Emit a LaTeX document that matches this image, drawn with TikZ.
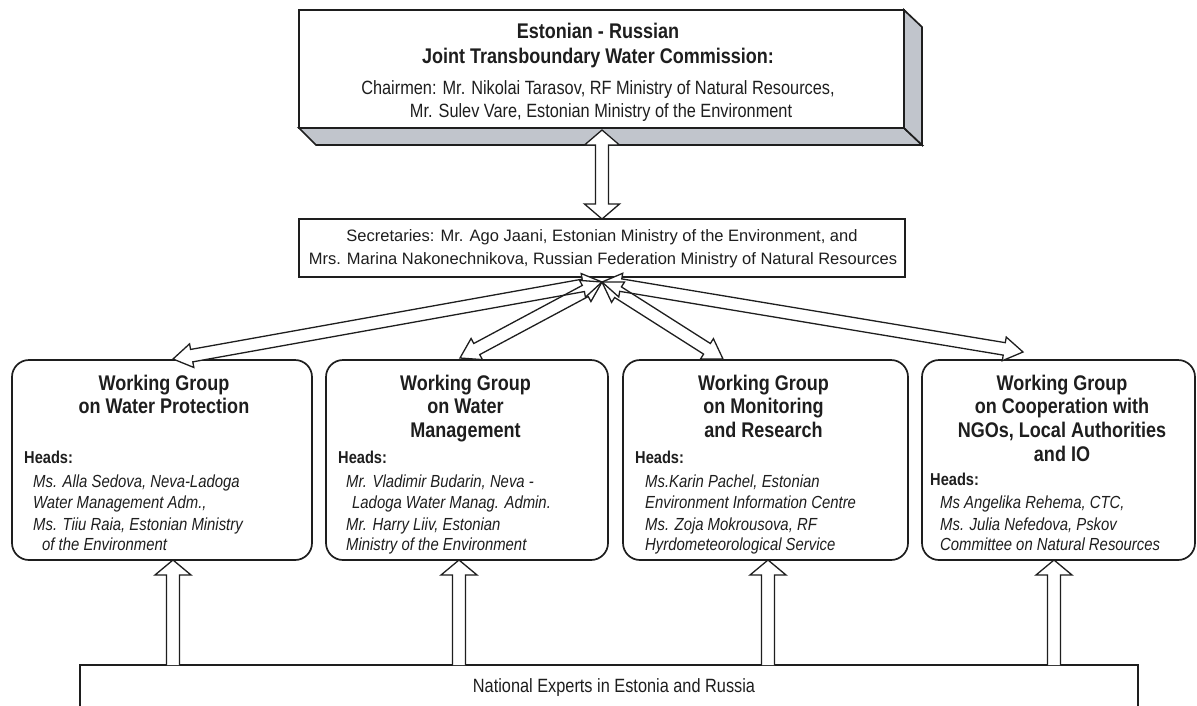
\documentclass[tikz,border=0pt]{standalone}
\usepackage{fontspec}
\setmainfont{Liberation Sans}
\newfontfamily\condf[FakeStretch=0.85]{Liberation Sans}
\usetikzlibrary{calc}
\definecolor{shade}{RGB}{193,197,204}
\definecolor{ink}{RGB}{30,30,30}
% #1 style, #2 from, #3 to, #4 head length, #5 head half width, #6 shaft half width
\newcommand\dblfat[6]{%
 \path (#2) coordinate (fa-p) (#3) coordinate (fa-q);
 \path ($(fa-p)!#4!(fa-q)$) coordinate (fa-a) ($(fa-q)!#4!(fa-p)$) coordinate (fa-b);
 \path[#1] (fa-p) -- ($(fa-a)!#5!90:(fa-q)$) -- ($(fa-a)!#6!90:(fa-q)$) -- ($(fa-b)!#6!-90:(fa-p)$) -- ($(fa-b)!#5!-90:(fa-p)$) -- (fa-q) -- ($(fa-b)!#5!90:(fa-p)$) -- ($(fa-b)!#6!90:(fa-p)$) -- ($(fa-a)!#6!-90:(fa-q)$) -- ($(fa-a)!#5!-90:(fa-q)$) -- cycle;}
\newcommand\sglfat[6]{%
 \path (#2) coordinate (fa-p) (#3) coordinate (fa-q);
 \path ($(fa-q)!#4!(fa-p)$) coordinate (fa-b);
 \path[#1] ($(fa-p)!#6!90:(fa-q)$) -- ($(fa-b)!#6!-90:(fa-p)$) -- ($(fa-b)!#5!-90:(fa-p)$) -- (fa-q) -- ($(fa-b)!#5!90:(fa-p)$) -- ($(fa-b)!#6!90:(fa-p)$) -- ($(fa-p)!#6!-90:(fa-q)$);}
\begin{document}
\begin{tikzpicture}[x=1pt,y=-1pt,
  fatfill/.style={fill=white},
  fatdraw/.style={draw=ink,line width=1.3pt,line join=miter},
  fatboth/.style={fill=white,draw=ink,line width=1.3pt,line join=miter},
  topbox/.style={draw=ink,line width=1.7pt,fill=white,inner sep=0pt,outer sep=0pt},
  secbox/.style={draw=ink,line width=1.3pt,fill=white,inner sep=0pt,outer sep=0pt},
  wgbox/.style={draw=ink,line width=1.7pt,rounded corners=17pt,fill=white,inner sep=0pt,outer sep=0pt,minimum height=200pt},
  expbox/.style={draw=ink,line width=1.4pt,inner sep=0pt,outer sep=0pt},
  ttl/.style={text=ink,inner sep=0pt,anchor=base,font=\condf\bfseries\fontsize{21.2}{24}\selectfont},
  chair/.style={text=ink,inner sep=0pt,anchor=base,font=\condf\fontsize{19.2}{22}\selectfont},
  sect/.style={text=ink,inner sep=0pt,anchor=base,font=\fontsize{16.5}{20}\selectfont},
  heads/.style={text=ink,inner sep=0pt,anchor=base west,font=\condf\bfseries\fontsize{17.2}{20}\selectfont},
  body/.style={text=ink,inner sep=0pt,anchor=base west,font=\condf\itshape\fontsize{17.5}{20}\selectfont}]
\useasboundingbox (0,0) rectangle (1197,705);
\fill[white] (0,0) rectangle (1197,705);
\clip (0,0) rectangle (1197,705);

% top box with 3D shadow
\node[topbox,minimum width=605pt,minimum height=118pt] (top) at (601.5,69) {};
\filldraw[fill=shade,draw=ink,line width=1.7pt,line join=miter]
  (top.south west) -- (top.south east) -- ++(18,17) -- ($(top.south west)+(17,17)$) -- cycle;
\filldraw[fill=shade,draw=ink,line width=1.7pt,line join=miter]
  (top.north east) -- ++(18,17) -- ($(top.south east)+(18,17)$) -- (top.south east) -- cycle;
\node[ttl] (t1) at (598,38) {Estonian - Russian};
\node[ttl] (t2) at (598,63) {Joint Transboundary Water Commission:};
\node[chair] (t3) at (598,94) {Chairmen: Mr. Nikolai Tarasov, RF Ministry of Natural Resources,};
\node[chair] (t4) at (601,117) {Mr. Sulev Vare, Estonian Ministry of the Environment};

% secretaries
\node[secbox,minimum width=606pt,minimum height=58pt] (sec) at (602,248) {};
\node[sect] (s1) at (602,241) {Secretaries: Mr. Ago Jaani, Estonian Ministry of the Environment, and};
\node[sect] (s2) at (603,264) {Mrs. Marina Nakonechnikova, Russian Federation Ministry of Natural Resources};

\dblfat{fatboth}{$(top.south)+(0.5,2)$}{sec.north}{15pt}{17.5pt}{6.5pt}

% working groups
\node[wgbox,minimum width=300pt] (wg1) at (162,460) {};
\node[wgbox,minimum width=282pt] (wg2) at (467,460) {};
\node[wgbox,minimum width=285pt] (wg3) at (765.5,460) {};
\node[wgbox,minimum width=273pt] (wg4) at (1058.5,460) {};

\node[ttl] (w1a) at (164,390) {Working Group};
\node[ttl] (w1b) at (164,413) {on Water Protection};
\node[ttl] (w2a) at (465.5,390) {Working Group};
\node[ttl] (w2b) at (465.5,413) {on Water};
\node[ttl] (w2c) at (465.5,437) {Management};
\node[ttl] (w3a) at (763.5,390) {Working Group};
\node[ttl] (w3b) at (763.5,413) {on Monitoring};
\node[ttl] (w3c) at (763.5,437) {and Research};
\node[ttl] (w4a) at (1062,390) {Working Group};
\node[ttl] (w4b) at (1062,413) {on Cooperation with};
\node[ttl] (w4c) at (1062,437) {NGOs, Local Authorities};
\node[ttl] (w4d) at (1062,461) {and IO};

\node[heads] (h1) at (24,463) {Heads:};
\node[body] (b1a) at (33,487) {Ms. Alla Sedova, Neva-Ladoga};
\node[body] (b1b) at (33,508) {Water Management Adm.,};
\node[body] (b1c) at (33,530) {Ms. Tiiu Raia, Estonian Ministry};
\node[body] (b1d) at (42,550) {of the Environment};

\node[heads] (h2) at (338,463) {Heads:};
\node[body] (b2a) at (346,487) {Mr. Vladimir Budarin, Neva -};
\node[body] (b2b) at (352,508) {Ladoga Water Manag. Admin.};
\node[body] (b2c) at (346,530) {Mr. Harry Liiv, Estonian};
\node[body] (b2d) at (346,550) {Ministry of the Environment};

\node[heads] (h3) at (635,463) {Heads:};
\node[body] (b3a) at (645,487) {Ms.Karin Pachel, Estonian};
\node[body] (b3b) at (645,508) {Environment Information Centre};
\node[body] (b3c) at (645,530) {Ms. Zoja Mokrousova, RF};
\node[body] (b3d) at (645,550) {Hyrdometeorological Service};

\node[heads] (h4) at (930,485) {Heads:};
\node[body] (b4a) at (940,508) {Ms Angelika Rehema, CTC,};
\node[body] (b4b) at (940,530) {Ms. Julia Nefedova, Pskov};
\node[body] (b4c) at (940,550) {Committee on Natural Resources};

% diagonal double arrows: fill pass then outline pass
\coordinate (hub) at ($(sec.south)+(0,5)$);
\foreach \pass in {fatfill,fatdraw}{
  \dblfat{\pass}{hub}{$(wg1.north)+(11,-1)$}{19pt}{12pt}{6.3pt}
  \dblfat{\pass}{hub}{$(wg2.north)+(-7,-2)$}{19pt}{12pt}{6.3pt}
  \dblfat{\pass}{hub}{$(wg3.north)+(-42.5,-1)$}{19pt}{12pt}{6.3pt}
  \dblfat{\pass}{hub}{$(wg4.north)+(-35.5,-8)$}{19pt}{12pt}{6.3pt}
}

% experts
\node[expbox,minimum width=1058pt,minimum height=80pt,anchor=north west] (exp) at (80,665) {};
\node[chair] (e1) at (614,692) {National Experts in Estonia and Russia};

\coordinate (u1) at ($(wg1.south)+(11,0)$);
\coordinate (u2) at ($(wg2.south)+(-8,0)$);
\coordinate (u3) at ($(wg3.south)+(2.5,0)$);
\coordinate (u4) at ($(wg4.south)+(-4.5,0)$);
\sglfat{fatboth}{u1 |- exp.north}{u1}{15pt}{18pt}{6.5pt}
\sglfat{fatboth}{u2 |- exp.north}{u2}{15pt}{18pt}{6.5pt}
\sglfat{fatboth}{u3 |- exp.north}{u3}{15pt}{18pt}{6.5pt}
\sglfat{fatboth}{u4 |- exp.north}{u4}{15pt}{18pt}{6.5pt}
\end{tikzpicture}
\end{document}
